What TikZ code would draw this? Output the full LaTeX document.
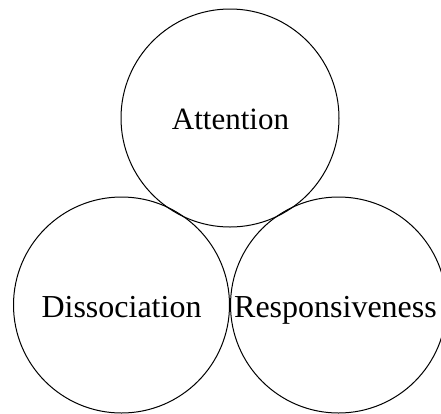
\documentclass[tikz,border=0pt]{standalone}
\usepackage{fontspec}
\setmainfont{Liberation Serif}
\begin{document}
\begin{tikzpicture}[x=1pt,y=-1pt,
  ring/.style={circle,draw,line width=1pt,inner sep=0pt,minimum size=#1},
  lbl/.style={anchor=base,font=\fontsize{32}{36}\selectfont,inner sep=0pt}]
\useasboundingbox (0,0) rectangle (441,413);
\node[ring=218pt] (top) at (230,118) {};
\node[ring=216pt] (left) at (121.5,305) {};
\node[ring=216pt] (right) at (338.5,305) {};
\node[lbl,font=\fontsize{31}{36}\selectfont] (tA) at (230.5,129.3) {Attention};
\node[lbl] (tD) at (121.5,317) {Dissociation};
\node[lbl] (tR) at (335.5,317) {Responsiveness};
\end{tikzpicture}
\end{document}
